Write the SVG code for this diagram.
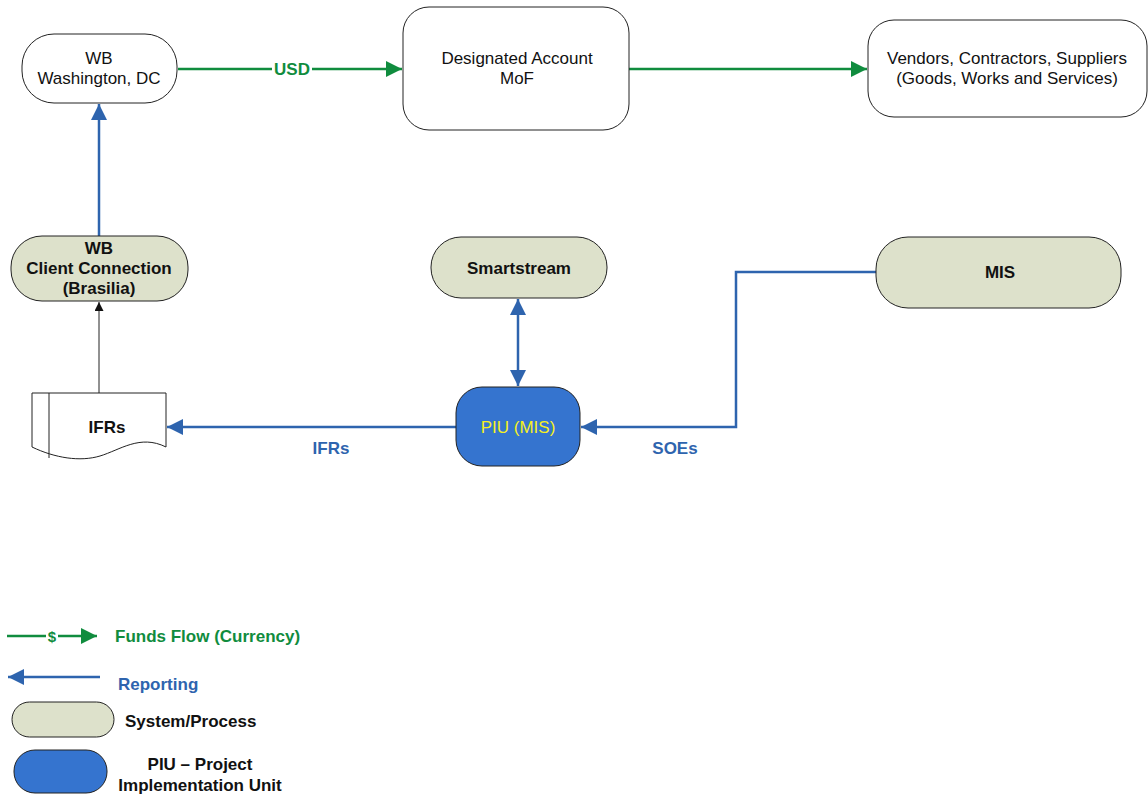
<svg xmlns="http://www.w3.org/2000/svg" width="1148" height="798" viewBox="0 0 1148 798">
<style>
text{font-family:"Liberation Sans",Arial,sans-serif;font-size:17px;text-anchor:middle;fill:#111}
.b{font-weight:bold}
.l{text-anchor:start}
.node{stroke:#222;stroke-width:1}
.w{fill:#fff}
.s{fill:#DDE1CB}
.p{fill:#3574CF}
.g{stroke:#108C3E;stroke-width:2.5;fill:none}
.bl{stroke:#2E64AE;stroke-width:2.5;fill:none}
.k{stroke:#222;stroke-width:1;fill:none}
.gt{fill:#108C3E;font-weight:bold}
.bt{fill:#2E64AE;font-weight:bold}
</style>
<defs>
<marker id="ag" viewBox="0 0 10 10" refX="10" refY="5" markerWidth="6.5" markerHeight="6.5" orient="auto-start-reverse" markerUnits="strokeWidth"><path d="M0,0L10,5L0,10z" fill="#108C3E"/></marker>
<marker id="ab" viewBox="0 0 10 10" refX="10" refY="5" markerWidth="6.5" markerHeight="6.5" orient="auto-start-reverse" markerUnits="strokeWidth"><path d="M0,0L10,5L0,10z" fill="#2E64AE"/></marker>
<marker id="ak" viewBox="0 0 10 10" refX="10" refY="5" markerWidth="9" markerHeight="9" orient="auto" markerUnits="strokeWidth"><path d="M0,0L10,5L0,10z" fill="#111"/></marker>
</defs>
<g id="connectors">
<line class="g" x1="178" y1="69" x2="402" y2="69" marker-end="url(#ag)"/>
<rect x="272" y="60" width="40" height="18" fill="#fff"/>
<text x="292" y="75" class="gt">USD</text>
<line class="g" x1="629" y1="69" x2="867" y2="69" marker-end="url(#ag)"/>
<line class="bl" x1="99" y1="236" x2="99" y2="104" marker-end="url(#ab)"/>
<line class="k" x1="99" y1="393" x2="99" y2="302" marker-end="url(#ak)"/>
<line class="bl" x1="518" y1="299" x2="518" y2="386" marker-start="url(#ab)" marker-end="url(#ab)"/>
<line class="bl" x1="456" y1="427" x2="167" y2="427" marker-end="url(#ab)"/>
<text x="331" y="454" class="bt">IFRs</text>
<polyline class="bl" points="876,272 736,272 736,427 581,427" marker-end="url(#ab)"/>
<text x="675" y="454" class="bt">SOEs</text>
</g>
<g id="wb-dc"><rect class="node w" x="22" y="34" width="155" height="69" rx="32"/><text x="99" y="64">WB</text><text x="99" y="84">Washington, DC</text></g>
<g id="designated-account"><rect class="node w" x="403" y="7" width="226" height="123" rx="26"/><text x="517" y="64">Designated Account</text><text x="517" y="84">MoF</text></g>
<g id="vendors"><rect class="node w" x="868" y="20" width="279" height="97" rx="26"/><text x="1007" y="64">Vendors, Contractors, Suppliers</text><text x="1007" y="84">(Goods, Works and Services)</text></g>
<g id="wb-client"><rect class="node s" x="11" y="236" width="177" height="65" rx="31"/><text x="99" y="254" class="b">WB</text><text x="99" y="274" class="b">Client Connection</text><text x="99" y="294" class="b">(Brasilia)</text></g>
<g id="smartstream"><rect class="node s" x="431" y="237" width="176" height="61" rx="30"/><text x="519" y="274" class="b">Smartstream</text></g>
<g id="mis"><rect class="node s" x="876" y="237" width="245" height="71" rx="32"/><text x="1000" y="278" class="b">MIS</text></g>
<g id="piu"><rect class="node p" x="456" y="387" width="124" height="79" rx="26"/><text x="518" y="433" style="fill:#F5F01E">PIU (MIS)</text></g>
<g id="ifrs-doc"><path class="node w" d="M32,393H166V447C140,434 120,450 100,456C80,462 55,458 32,447Z"/><line class="k" x1="49" y1="393" x2="49" y2="458"/><text x="107" y="433" class="b">IFRs</text></g>
<g id="legend">
<line class="g" x1="7" y1="636" x2="97" y2="636" marker-end="url(#ag)"/>
<rect x="46" y="627" width="12" height="18" fill="#fff"/>
<text x="52" y="642" class="gt" style="font-size:15px">$</text>
<text x="115" y="642" class="gt l">Funds Flow (Currency)</text>
<line class="bl" x1="100" y1="677" x2="8" y2="677" marker-end="url(#ab)"/>
<text x="118" y="690" class="bt l">Reporting</text>
<rect class="node s" x="12" y="702" width="102" height="35" rx="17.5"/>
<text x="125" y="727" class="b l">System/Process</text>
<rect class="node p" x="14" y="750" width="93" height="43" rx="21"/>
<text x="200" y="770" class="b">PIU – Project</text>
<text x="200" y="791" class="b">Implementation Unit</text>
</g>
</svg>
